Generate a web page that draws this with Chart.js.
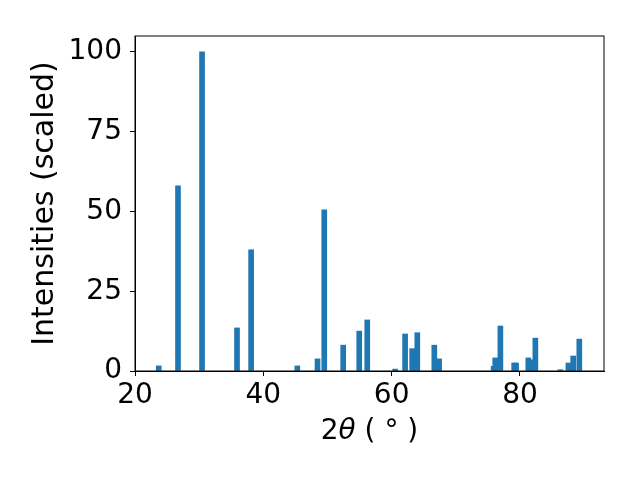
<!DOCTYPE html>
<html>
<head>
<meta charset="utf-8">
<script src="https://cdn.jsdelivr.net/npm/chart.js@4"></script>
<style>
  html, body { margin: 0; padding: 0; background: #fff; }
  #wrap { width: 640px; height: 480px; }
</style>
</head>
<body>
<div id="wrap"><canvas id="mycanvas" width="640" height="480"></canvas></div>
<script>
// peak positions (2theta, degrees) and scaled intensities
var angles = [23.7, 26.7, 30.45, 35.9, 38.1, 45.3, 48.45, 49.5, 52.45, 54.95, 56.2,
              60.55, 62.1, 63.2, 64.0, 66.65, 67.4, 75.9, 76.15, 76.95, 79.1, 79.4,
              81.3, 81.6, 82.4, 86.3, 87.55, 88.3, 89.25];
var intensities = [1.6, 58, 100, 13.5, 38, 1.6, 3.8, 50.5, 8.1, 12.5, 16,
                   0.6, 11.6, 7, 12, 8.1, 3.8, 1.5, 4.1, 14.1, 2.5, 2.5,
                   4.1, 3.5, 10.3, 0.4, 2.5, 4.7, 10];
var xTicks = [20, 40, 60, 80];
var yTicks = [0, 25, 50, 75, 100];

var points = [];
for (var i in angles) {
	points.push({x: angles[i], y: intensities[i]});
}

var fontSize = 28;
var labelSize = 30;
var font = {family: 'DejaVu Sans', size: fontSize};

// box round the plot area + the x label with an italic theta
var extras = {
	id: 'extras',
	afterDraw: function(chart) {
		var a = chart.chartArea, c = chart.ctx;
		c.save();
		c.strokeStyle = '#000';
		c.lineWidth = 1;
		c.strokeRect(a.left, a.top, a.right - a.left, a.bottom - a.top);

		var parts = [
			['2', 'normal'],
			['θ', 'italic'],
			[' ( ° )', 'normal']
		];
		var total = 0;
		parts.forEach(function(p) {
			c.font = p[1] + ' ' + fontSize + 'px "DejaVu Sans"';
			p.push(c.measureText(p[0]).width);
			total += p[2];
		});
		var x = (a.left + a.right) / 2 - total / 2;
		c.fillStyle = '#000';
		c.textBaseline = 'middle';
		c.textAlign = 'left';
		parts.forEach(function(p) {
			c.font = p[1] + ' ' + fontSize + 'px "DejaVu Sans"';
			c.fillText(p[0], x, 432);
			x += p[2];
		});
		c.restore();
	}
};

var ctx = document.getElementById('mycanvas');
var barGraph = new Chart(ctx, {
	type: 'bar',
	data: {
		datasets: [{
			data: points,
			backgroundColor: '#1f77b4',
			borderWidth: 0,
			barThickness: 5
		}]
	},
	options: {
		responsive: false,
		animation: false,
		layout: {padding: {top: 36, right: 36, left: 0, bottom: 0}},
		plugins: {legend: {display: false}, tooltip: {enabled: false}},
		scales: {
			x: {
				type: 'linear',
				min: 20,
				max: 93.1,
				offset: false,
				afterBuildTicks: function(s) { s.ticks = xTicks.map(function(v) { return {value: v}; }); },
				afterFit: function(s) { s.height = 109; },
				grid: {offset: false, drawOnChartArea: false, drawTicks: true, tickLength: 5, color: '#000'},
				border: {display: true, color: '#000'},
				ticks: {color: '#000', font: font, padding: 3, maxRotation: 0, autoSkip: false}
			},
			y: {
				min: 0,
				max: 105,
				afterBuildTicks: function(s) { s.ticks = yTicks.map(function(v) { return {value: v}; }); },
				afterFit: function(s) { s.width = 135; },
				grid: {drawOnChartArea: false, drawTicks: true, tickLength: 5, color: '#000'},
				border: {display: true, color: '#000'},
				ticks: {color: '#000', font: font, padding: 8},
				title: {display: true, text: 'Intensities (scaled)', color: '#000', font: {family: 'DejaVu Sans', size: labelSize}, padding: {top: 27, bottom: 0}}
			}
		}
	},
	plugins: [extras]
});
</script>
</body>
</html>
